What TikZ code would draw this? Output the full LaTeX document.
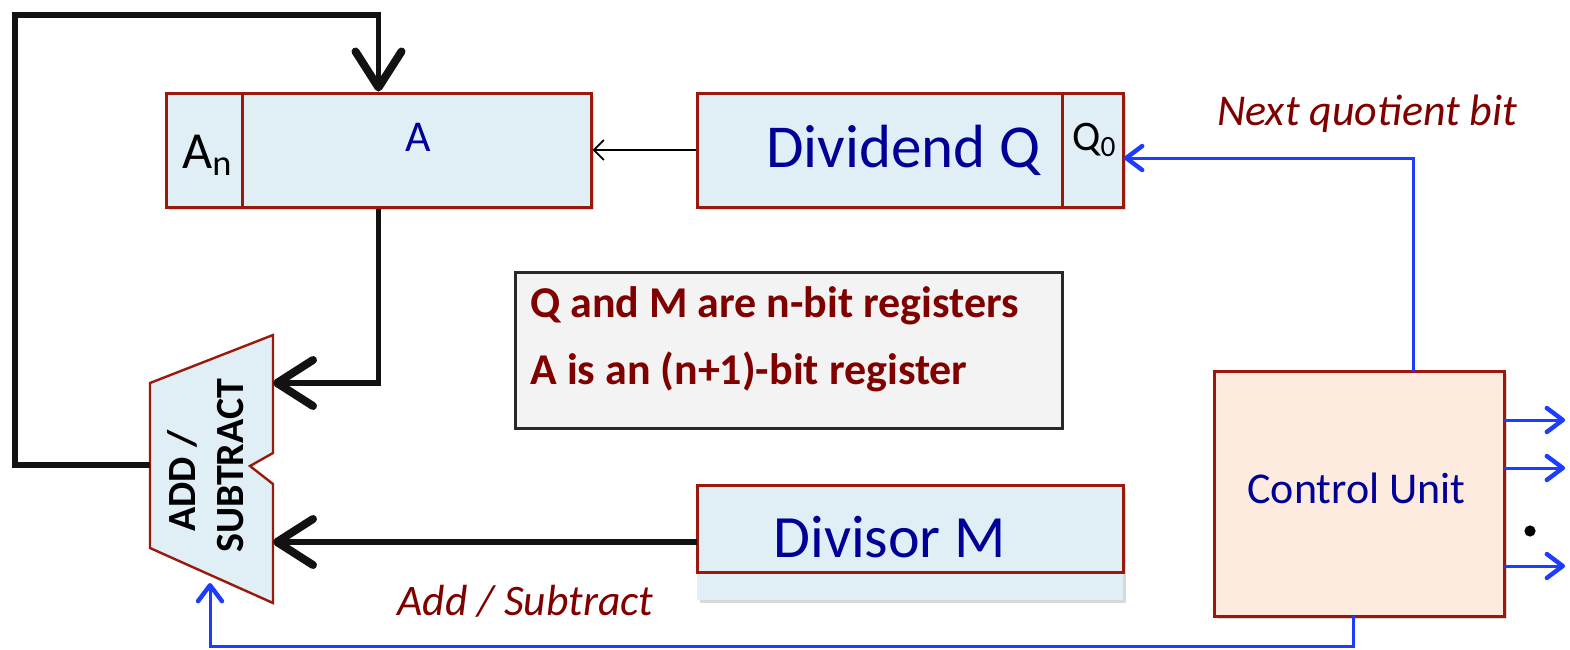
\documentclass[tikz,border=0pt]{standalone}
\usepackage{fontspec}
\setmainfont{Carlito}
\usetikzlibrary{arrows.meta,shadows}
\definecolor{regfill}{RGB}{224,239,245}
\definecolor{regborder}{RGB}{155,25,10}
\definecolor{txtblue}{RGB}{0,0,150}
\definecolor{lblred}{RGB}{128,0,0}
\definecolor{linkblue}{RGB}{30,60,255}
\definecolor{cufill}{RGB}{253,235,223}
\definecolor{notefill}{RGB}{243,243,243}
\definecolor{noteborder}{RGB}{40,40,40}
\tikzset{
  shad/.style={drop shadow={shadow xshift=1.5pt, shadow yshift=-1.5pt, opacity=0.3}},
  reg/.style={draw=regborder, fill=regfill, line width=1.5pt, inner sep=0pt, shad},
  cubox/.style={draw=regborder, fill=cufill, line width=1.5pt, inner sep=0pt, shad},
  notebox/.style={draw=noteborder, fill=notefill, line width=1.5pt, inner sep=0pt},
  bigarrow/.style={draw=black!93, line width=2.6pt, -{Straight Barb[length=18pt, width=23pt, line width=4pt, round]}},
  thinarrow/.style={draw=black, line width=0.8pt, -{Straight Barb[length=5pt, width=10pt, line width=0.9pt]}},
  bluearrow/.style={draw=linkblue, line width=1.5pt, -{Straight Barb[length=8pt, width=12pt, line width=2.2pt, round]}},
  lbl/.style={inner sep=0pt, anchor=base west},
}
\begin{document}
\begin{tikzpicture}[x=0.5pt,y=-0.5pt]
\useasboundingbox (0,0) rectangle (1570,649);

% registers
\node[reg, minimum width=212.5pt, minimum height=57pt] (Areg) at (378.5,150) {};
\coordinate (adivT) at (242,93);
\coordinate (adivB) at (242,207);
\draw[draw=regborder, line width=1.5pt] (adivT) -- (adivB);
\node[lbl, font=\fontsize{26pt}{30pt}\selectfont] (An) at (182,168) {A\textsubscript{n}};
\node[inner sep=0pt, text=txtblue, font=\fontsize{22pt}{26pt}\selectfont] (Alab) at (418,137) {A};

\node[reg, minimum width=213pt, minimum height=57pt] (Dq) at (910,150) {};
\coordinate (qdivT) at (1062,93);
\coordinate (qdivB) at (1062,207);
\draw[draw=regborder, line width=1.5pt] (qdivT) -- (qdivB);
\node[lbl, text=txtblue, font=\fontsize{30.5pt}{36pt}\selectfont] (Dqlab) at (766,167) {Dividend Q};
\node[lbl, font=\fontsize{21pt}{25pt}\selectfont] (Q0) at (1072,150) {Q\textsubscript{0}};

\node[fill=regfill, inner sep=0pt, minimum width=213pt, minimum height=57.5pt, shad] (Dmext) at (910,542.5) {};
\node[draw=regborder, fill=regfill, line width=1.5pt, inner sep=0pt, minimum width=213pt, minimum height=43.5pt] (Dm) at (910,528.5) {};
\node[lbl, text=txtblue, font=\fontsize{30pt}{36pt}\selectfont] (Dmlab) at (773,557) {Divisor M};

% note
\node[notebox, minimum width=273.5pt, minimum height=78pt] (Note) at (788.5,350) {};
\node[lbl, text=lblred, font=\bfseries\fontsize{22pt}{26pt}\selectfont] (N1) at (530,317) {Q and M are n-bit registers};
\node[lbl, text=lblred, font=\bfseries\fontsize{22pt}{26pt}\selectfont] (N2) at (530,384) {A is an (n+1)-bit register};

% control unit
\node[cubox, minimum width=145pt, minimum height=122.5pt] (CU) at (1359,493.5) {};
\node[lbl, text=txtblue, font=\fontsize{22pt}{26pt}\selectfont] (CUlab) at (1247,503) {Control Unit};

% adder
\draw[draw=regborder, fill=regfill, line width=1.2pt, line join=miter]
  (273,335) -- (273,453) -- (250,466) -- (273,484) -- (273,603) -- (150,548) -- (150,383) -- cycle;
\node[lbl, rotate=90, font=\bfseries\fontsize{20pt}{22pt}\selectfont] (Add1) at (195,532) {ADD /};
\node[lbl, rotate=90, font=\bfseries\fontsize{20pt}{22pt}\selectfont] (Add2) at (243,553) {SUBTRACT};
\coordinate (addL) at (150,465);
\coordinate (addT) at (273,383);
\coordinate (addD) at (273,542);
\coordinate (addB) at (210,583);

% labels
\node[lbl, text=lblred, font=\itshape\fontsize{22pt}{26pt}\selectfont] (NQ) at (1217,125) {Next quotient bit};
\node[lbl, text=lblred, font=\itshape\fontsize{21.8pt}{26pt}\selectfont] (AS) at (397,615) {Add / Subtract};

% black connectors
\coordinate (loopB) at (15,465);
\coordinate (loopT) at (15,15);
\draw[bigarrow, line join=miter] (addL) -- (loopB) -- (loopT) -| (Areg.north);
\draw[bigarrow, line join=miter] (Areg.south) |- (addT);
\coordinate (dmL) at (697,542);
\draw[bigarrow] (dmL) -- (addD);
\draw[thinarrow] (Dq.west) -- (Areg.east);

% blue connectors
\coordinate (cuT) at (1413,371);
\coordinate (q0in) at (1124,158);
\draw[bluearrow] (cuT) |- (q0in);
\coordinate (cuB) at (1353,616);
\coordinate (botC) at (1353,646);
\draw[bluearrow] (cuB) -- (botC) -| (addB);
\coordinate (o1s) at (1504,420);
\coordinate (o1e) at (1565,420);
\coordinate (o2s) at (1504,468);
\coordinate (o2e) at (1565,468);
\coordinate (o3s) at (1504,566);
\coordinate (o3e) at (1565,566);
\draw[bluearrow] (o1s) -- (o1e);
\draw[bluearrow] (o2s) -- (o2e);
\draw[bluearrow] (o3s) -- (o3e);
\fill[black] (1530,531) circle (2.8pt);
\end{tikzpicture}
\end{document}
